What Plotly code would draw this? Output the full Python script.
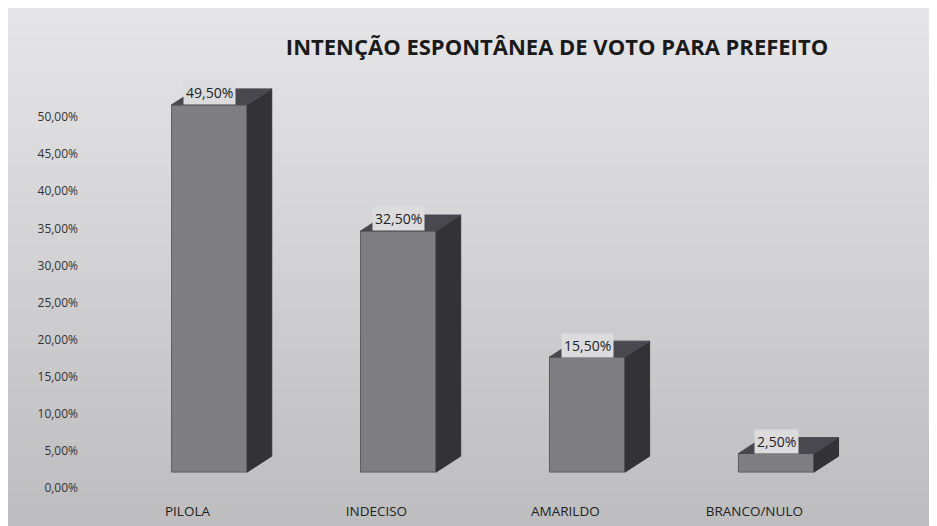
import plotly.graph_objects as go

categorias = ["PILOLA", "INDECISO", "AMARILDO", "BRANCO/NULO"]
percentuais = [49.5, 32.5, 15.5, 2.5]
ticks_y = [0, 5, 10, 15, 20, 25, 30, 35, 40, 45, 50]


def fmt(v):
    return f"{v:.2f}".replace(".", ",") + "%"


# fake 3d look (Excel style)
base = 2.15      # front face floor, in %
desloc = 0.116   # bar shifted right of its label
larg = 0.40
dx = 0.13
dy = 2.15

cor_frente = "#7f7f83"
cor_lado = "#323237"
cor_topo = "#48484e"

xs = [i + desloc for i in range(len(categorias))]

fig = go.Figure()

fig.add_trace(go.Bar(
    x=xs, y=percentuais, base=[base] * len(percentuais), width=larg,
    marker=dict(color=cor_frente, line=dict(color="#5c5c60", width=1)),
    hoverinfo="skip", showlegend=False,
))

for x, v in zip(xs, percentuais):
    dir_ = x + larg / 2
    esq = x - larg / 2
    topo = base + v
    # lateral
    fig.add_trace(go.Scatter(
        x=[dir_, dir_ + dx, dir_ + dx, dir_, dir_],
        y=[base, base + dy, topo + dy, topo, base],
        fill="toself", fillcolor=cor_lado, mode="lines",
        line=dict(color=cor_lado, width=1), hoverinfo="skip", showlegend=False,
    ))
    # topo
    fig.add_trace(go.Scatter(
        x=[esq, esq + dx, dir_ + dx, dir_, esq],
        y=[topo, topo + dy, topo + dy, topo, topo],
        fill="toself", fillcolor=cor_topo, mode="lines",
        line=dict(color=cor_topo, width=1), hoverinfo="skip", showlegend=False,
    ))
    fig.add_annotation(
        x=x, y=topo, yshift=12, showarrow=False,
        text=fmt(v),
        font=dict(family="Open Sans", size=14, color="#222"),
        bgcolor="#dcdcde", borderpad=2,
    )

# fundo degradê
n = 40
y0, y1 = -39 / 415, 1 + 72 / 415
for k in range(n):
    t = k / (n - 1)
    g = int(0xbd + (0xe6 - 0xbd) * t)
    fig.add_shape(
        type="rect", xref="paper", yref="paper", layer="below",
        x0=-0.2, x1=1.1,
        y0=y0 + (y1 - y0) * k / n, y1=y0 + (y1 - y0) * (k + 1) / n + 0.002,
        fillcolor=f"rgb({g},{g},{g + 2})", line=dict(width=0),
    )

fig.update_layout(
    width=937, height=526,
    margin=dict(l=85, r=15, t=72, b=39),
    paper_bgcolor="#d2d2d4", plot_bgcolor="rgba(0,0,0,0)",
    title=dict(
        text="<b>INTENÇÃO ESPONTÂNEA DE VOTO PARA PREFEITO</b>",
        x=549 / 937, xanchor="center", y=1 - 39 / 526, yanchor="middle",
        font=dict(family="Open Sans", size=22, color="#1a1a1a"),
    ),
    xaxis=dict(
        range=[-0.5, 3.93], tickvals=list(range(len(categorias))),
        ticktext=categorias, showgrid=False, zeroline=False, showline=False,
        tickfont=dict(family="Open Sans", size=13.5, color="#222"),
        ticklabelstandoff=6,
    ),
    yaxis=dict(
        range=[-0.94, 55.0], tickvals=ticks_y,
        ticktext=[fmt(t) for t in ticks_y],
        showgrid=False, zeroline=False, showline=False,
        tickfont=dict(family="Open Sans", size=12, color="#333"),
        ticklabelstandoff=14,
    ),
)

fig.write_html("out.html")
